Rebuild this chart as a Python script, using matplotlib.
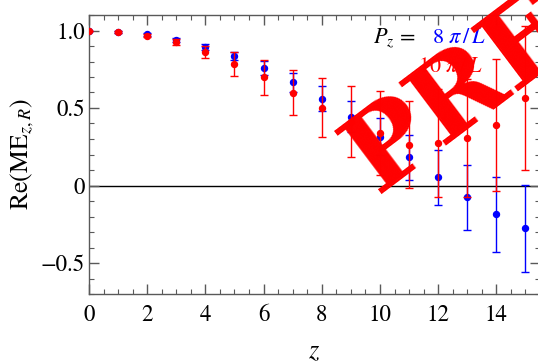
import numpy as np
import matplotlib
matplotlib.use("Agg")
import matplotlib.pyplot as plt
from matplotlib.ticker import MultipleLocator, FixedLocator, FixedFormatter

plt.rcParams['font.family'] = ['STIXGeneral', 'DejaVu Serif']
plt.rcParams['mathtext.fontset'] = 'stix'

# Separation z (lattice units)
z = np.arange(16)

# P_z = 8 pi / L
re_8 = [1.0, 0.99, 0.975, 0.94, 0.895, 0.835, 0.757, 0.665, 0.56, 0.443,
        0.315, 0.182, 0.052, -0.075, -0.187, -0.277]
err_8 = [0.0, 0.004, 0.008, 0.012, 0.018, 0.028, 0.045, 0.06, 0.08, 0.10,
         0.12, 0.145, 0.18, 0.21, 0.245, 0.28]

# P_z = 10 pi / L
re_10 = [1.0, 0.99, 0.965, 0.925, 0.86, 0.783, 0.697, 0.60, 0.502, 0.412,
         0.337, 0.263, 0.275, 0.307, 0.392, 0.564]
err_10 = [0.0, 0.005, 0.01, 0.02, 0.04, 0.077, 0.11, 0.145, 0.19, 0.227,
          0.272, 0.28, 0.348, 0.381, 0.425, 0.467]

xticks = [0, 2, 4, 6, 8, 10, 12, 14]
yticks = [-0.5, 0, 0.5, 1.0]
ytick_labels = ['\u22120.5', '0', '0.5', '1.0']

fig = plt.figure(figsize=(5.38, 3.61), dpi=100)
ax = fig.add_axes([89 / 538, 67 / 361, 451 / 538, 279 / 361])

ax.axhline(0, color='black', lw=1.0, zorder=1)

ax.errorbar(z, re_8, yerr=err_8, fmt='o', color='#0000ff', ms=4.3,
            elinewidth=1.0, capsize=3, capthick=1.0, zorder=3)
ax.errorbar(z, re_10, yerr=err_10, fmt='o', color='#ff0000', ms=4.3,
            elinewidth=1.0, capsize=3, capthick=1.0, zorder=4)

ax.set_xlim(0, 15.5)
ax.set_ylim(-0.7, 1.1)

ax.xaxis.set_major_locator(FixedLocator(xticks))
ax.xaxis.set_minor_locator(MultipleLocator(0.5))
ax.yaxis.set_major_locator(FixedLocator(yticks))
ax.yaxis.set_major_formatter(FixedFormatter(ytick_labels))
ax.yaxis.set_minor_locator(MultipleLocator(0.1))

ax.tick_params(which='both', direction='in', top=True, right=True,
               color='0.35', labelsize=16.5)
ax.tick_params(which='major', length=7, width=1.0)
ax.tick_params(which='minor', length=3.5, width=0.8)
ax.tick_params(axis='x', pad=8)
ax.tick_params(axis='y', pad=3)
for s in ax.spines.values():
    s.set_color('0.35')
    s.set_linewidth(1.0)

ax.set_ylabel(r'$\mathrm{Re}(\mathrm{ME}_{z,R})$', fontsize=18.5)
ax.yaxis.set_label_coords(-0.118, 0.5)
ax.set_xlabel(r'$z$', fontsize=19)
ax.xaxis.set_label_coords(0.5, -0.165)

# momentum legend
ax.text(0.63, 0.918, r'$P_z$ =', transform=ax.transAxes, fontsize=16,
        color='black', va='center', ha='left')
ax.text(0.76, 0.918, r'$8\ \pi\,/\,L$', transform=ax.transAxes, fontsize=16,
        color='#0000ff', va='center', ha='left')
ax.text(0.729, 0.814, r'$10\ \pi\,/\,L$', transform=ax.transAxes, fontsize=16,
        color='#ff0000', va='center', ha='left')

# preliminary stamp
fig.text(0.70, 0.462, 'PRELIMINARY', fontsize=78, fontweight='bold',
         family='DejaVu Serif', color='#ff0000', rotation=37,
         ha='left', va='baseline', rotation_mode='anchor', zorder=10)

fig.savefig('out.png', dpi=100)
